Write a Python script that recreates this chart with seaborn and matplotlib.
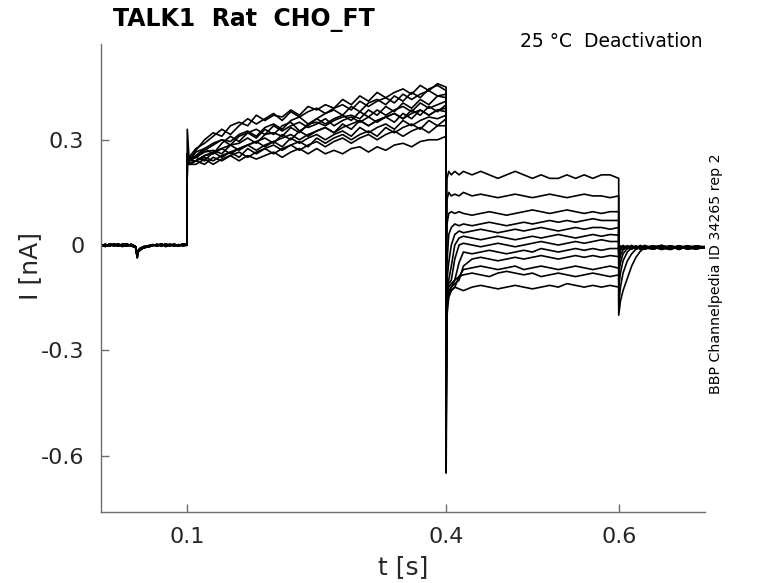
import numpy as np
import pandas as pd
import matplotlib
matplotlib.use("Agg")
import matplotlib.pyplot as plt
import seaborn as sns

# ---------------- data ----------------
hold_t = [0.0, 0.005, 0.01, 0.015, 0.02, 0.025, 0.03, 0.035, 0.04, 0.042, 0.043, 0.045,
          0.05, 0.055, 0.06, 0.065, 0.07, 0.075, 0.08, 0.085, 0.09, 0.095, 0.0995]
hold_a = [0.002, -0.003, 0.001, -0.002, 0.003, -0.004, 0.001, -0.002, -0.006, -0.036, -0.02, -0.015,
          -0.006, -0.002, 0.001, -0.003, 0.002, -0.001, 0.002, -0.003, 0.001, -0.002, 0.0]
hold_b = [-0.002, 0.002, -0.003, 0.003, -0.001, 0.002, -0.003, 0.002, -0.004, -0.03, -0.018, -0.012,
          -0.008, -0.004, -0.002, 0.002, -0.003, 0.003, -0.002, 0.001, -0.003, 0.002, -0.001]
hold_c = [0.0, -0.004, 0.003, 0.0, -0.003, 0.001, 0.003, -0.003, -0.005, -0.025, -0.016, -0.01,
          -0.004, -0.006, 0.0, -0.001, 0.003, -0.004, 0.0, 0.002, -0.002, 0.003, 0.001]
hold_sets = [hold_a, hold_b, hold_c]

act_t = [0.100, 0.102, 0.11, 0.12, 0.13, 0.14, 0.15, 0.16, 0.17, 0.18, 0.19, 0.20, 0.21, 0.22,
         0.23, 0.24, 0.25, 0.26, 0.27, 0.28, 0.29, 0.30, 0.31, 0.32, 0.33, 0.34, 0.35, 0.36,
         0.37, 0.38, 0.39, 0.40]
act_i = [
    [0.26, 0.24, 0.27, 0.30, 0.32, 0.31, 0.34, 0.35, 0.34, 0.37, 0.355, 0.37, 0.365, 0.385, 0.37, 0.395,
     0.385, 0.40, 0.39, 0.415, 0.40, 0.425, 0.41, 0.435, 0.42, 0.435, 0.445, 0.43, 0.455, 0.44, 0.46, 0.45],
    [0.33, 0.25, 0.25, 0.27, 0.285, 0.30, 0.295, 0.315, 0.325, 0.31, 0.335, 0.345, 0.33, 0.355, 0.365, 0.345,
     0.36, 0.375, 0.385, 0.37, 0.395, 0.38, 0.405, 0.415, 0.40, 0.425, 0.41, 0.435, 0.42, 0.445, 0.455, 0.44],
    [0.26, 0.24, 0.25, 0.265, 0.27, 0.26, 0.285, 0.29, 0.305, 0.29, 0.315, 0.32, 0.31, 0.335, 0.32, 0.345,
     0.35, 0.34, 0.355, 0.365, 0.37, 0.36, 0.385, 0.37, 0.395, 0.38, 0.405, 0.39, 0.415, 0.40, 0.425, 0.42],
    [0.26, 0.23, 0.24, 0.255, 0.26, 0.275, 0.26, 0.275, 0.285, 0.295, 0.28, 0.295, 0.305, 0.315, 0.30, 0.315,
     0.325, 0.335, 0.32, 0.335, 0.345, 0.355, 0.34, 0.355, 0.365, 0.375, 0.36, 0.385, 0.37, 0.395, 0.38, 0.40],
    [0.26, 0.25, 0.275, 0.29, 0.31, 0.33, 0.315, 0.34, 0.36, 0.345, 0.36, 0.375, 0.355, 0.38, 0.365, 0.38,
     0.39, 0.375, 0.39, 0.40, 0.385, 0.41, 0.395, 0.41, 0.42, 0.405, 0.43, 0.415, 0.43, 0.44, 0.425, 0.43],
    [0.26, 0.24, 0.25, 0.24, 0.265, 0.275, 0.285, 0.27, 0.285, 0.295, 0.305, 0.29, 0.315, 0.30, 0.325, 0.31,
     0.325, 0.335, 0.32, 0.345, 0.33, 0.355, 0.34, 0.355, 0.365, 0.35, 0.375, 0.36, 0.385, 0.37, 0.385, 0.39],
    [0.26, 0.24, 0.24, 0.255, 0.265, 0.25, 0.265, 0.275, 0.285, 0.27, 0.285, 0.295, 0.28, 0.305, 0.29, 0.305,
     0.315, 0.30, 0.315, 0.325, 0.31, 0.335, 0.32, 0.335, 0.345, 0.33, 0.355, 0.34, 0.355, 0.365, 0.36, 0.37],
    [0.26, 0.23, 0.24, 0.25, 0.24, 0.255, 0.265, 0.25, 0.275, 0.26, 0.275, 0.285, 0.27, 0.285, 0.295, 0.28,
     0.305, 0.29, 0.305, 0.315, 0.30, 0.315, 0.325, 0.31, 0.335, 0.32, 0.335, 0.345, 0.33, 0.355, 0.34, 0.36],
    [0.26, 0.24, 0.255, 0.275, 0.26, 0.29, 0.31, 0.295, 0.32, 0.305, 0.33, 0.315, 0.34, 0.35, 0.325, 0.34,
     0.36, 0.345, 0.36, 0.37, 0.355, 0.38, 0.365, 0.385, 0.37, 0.385, 0.395, 0.38, 0.405, 0.39, 0.40, 0.41],
    [0.26, 0.23, 0.24, 0.23, 0.25, 0.24, 0.255, 0.265, 0.25, 0.265, 0.275, 0.26, 0.275, 0.285, 0.27, 0.285,
     0.295, 0.28, 0.295, 0.305, 0.29, 0.305, 0.315, 0.30, 0.315, 0.325, 0.31, 0.325, 0.335, 0.32, 0.34, 0.34],
    [0.26, 0.24, 0.265, 0.275, 0.29, 0.30, 0.285, 0.31, 0.32, 0.33, 0.315, 0.34, 0.325, 0.34, 0.35, 0.335,
     0.345, 0.36, 0.34, 0.355, 0.365, 0.35, 0.365, 0.35, 0.365, 0.375, 0.36, 0.375, 0.385, 0.37, 0.385, 0.38],
    [0.26, 0.23, 0.23, 0.245, 0.23, 0.245, 0.255, 0.24, 0.255, 0.245, 0.255, 0.265, 0.25, 0.265, 0.275, 0.26,
     0.275, 0.26, 0.27, 0.26, 0.275, 0.28, 0.265, 0.28, 0.27, 0.285, 0.29, 0.28, 0.295, 0.30, 0.30, 0.31],
]

tail_t = [0.400, 0.401, 0.403, 0.406, 0.410, 0.415, 0.420, 0.43, 0.44, 0.45, 0.46, 0.47, 0.48,
          0.49, 0.50, 0.51, 0.52, 0.53, 0.54, 0.55, 0.56, 0.57, 0.58, 0.59, 0.60]
tail_i = [
    [-0.05, 0.19, 0.21, 0.20, 0.21, 0.20, 0.21, 0.20, 0.21, 0.20, 0.19, 0.20, 0.21,
     0.20, 0.19, 0.20, 0.19, 0.19, 0.20, 0.19, 0.20, 0.19, 0.20, 0.20, 0.19],
    [-0.10, 0.13, 0.15, 0.14, 0.145, 0.14, 0.15, 0.14, 0.145, 0.14, 0.135, 0.14, 0.145,
     0.14, 0.135, 0.14, 0.145, 0.14, 0.135, 0.14, 0.145, 0.14, 0.14, 0.135, 0.14],
    [-0.15, 0.06, 0.09, 0.095, 0.09, 0.095, 0.09, 0.085, 0.09, 0.095, 0.09, 0.085, 0.09,
     0.095, 0.10, 0.095, 0.09, 0.095, 0.10, 0.095, 0.09, 0.095, 0.09, 0.095, 0.095],
    [-0.20, -0.05, 0.03, 0.05, 0.06, 0.055, 0.06, 0.055, 0.06, 0.065, 0.06, 0.055, 0.06,
     0.065, 0.06, 0.065, 0.07, 0.065, 0.07, 0.065, 0.07, 0.075, 0.07, 0.07, 0.07],
    [-0.25, -0.10, -0.05, 0.0, 0.03, 0.04, 0.035, 0.04, 0.045, 0.04, 0.035, 0.04, 0.045,
     0.04, 0.045, 0.05, 0.045, 0.04, 0.045, 0.05, 0.045, 0.05, 0.05, 0.045, 0.05],
    [-0.30, -0.12, -0.10, -0.06, 0.0, 0.02, 0.025, 0.02, 0.015, 0.02, 0.025, 0.02, 0.015,
     0.02, 0.025, 0.02, 0.025, 0.03, 0.025, 0.02, 0.025, 0.03, 0.025, 0.03, 0.028],
    [-0.35, -0.13, -0.11, -0.10, -0.04, 0.0, 0.005, 0.0, -0.005, 0.0, 0.005, 0.0, -0.005,
     0.0, 0.005, 0.01, 0.005, 0.0, 0.005, 0.01, 0.005, 0.01, 0.015, 0.01, 0.01],
    [-0.40, -0.14, -0.12, -0.11, -0.10, -0.05, -0.02, -0.025, -0.02, -0.015, -0.02, -0.025, -0.02,
     -0.015, -0.02, -0.01, -0.015, -0.02, -0.015, -0.01, -0.015, -0.01, -0.015, -0.01, -0.01],
    [-0.45, -0.15, -0.13, -0.12, -0.11, -0.10, -0.06, -0.04, -0.035, -0.04, -0.045, -0.04, -0.035,
     -0.04, -0.035, -0.03, -0.035, -0.04, -0.035, -0.03, -0.035, -0.03, -0.035, -0.03, -0.033],
    [-0.50, -0.16, -0.14, -0.13, -0.12, -0.09, -0.07, -0.065, -0.06, -0.065, -0.07, -0.065, -0.06,
     -0.07, -0.065, -0.06, -0.065, -0.07, -0.065, -0.06, -0.065, -0.07, -0.065, -0.06, -0.066],
    [-0.55, -0.17, -0.14, -0.12, -0.10, -0.09, -0.085, -0.08, -0.085, -0.09, -0.08, -0.075, -0.08,
     -0.085, -0.08, -0.09, -0.085, -0.08, -0.085, -0.09, -0.085, -0.08, -0.085, -0.09, -0.085],
    [-0.65, -0.20, -0.15, -0.13, -0.12, -0.125, -0.13, -0.12, -0.115, -0.12, -0.125, -0.12, -0.115,
     -0.12, -0.125, -0.12, -0.115, -0.12, -0.11, -0.115, -0.12, -0.115, -0.12, -0.115, -0.12],
]

post_t = [0.600, 0.602, 0.605, 0.610, 0.615, 0.620, 0.625, 0.630, 0.64, 0.65, 0.66, 0.67,
          0.68, 0.69, 0.70]
post_i = [
    [-0.010, -0.002, -0.012, -0.004, -0.010, -0.003, -0.011, -0.004, -0.009, -0.002, -0.010, -0.004, -0.011, -0.003, -0.006],
    [-0.015, -0.008, -0.001, -0.010, -0.004, -0.012, -0.002, -0.009, -0.003, -0.012, -0.004, -0.010, -0.002, -0.009, -0.005],
    [-0.020, -0.004, -0.010, -0.002, -0.012, -0.005, -0.009, -0.001, -0.011, -0.006, -0.002, -0.011, -0.006, -0.002, -0.008],
    [-0.020, -0.011, -0.003, -0.009, -0.001, -0.010, -0.004, -0.012, -0.005, -0.001, -0.009, -0.003, -0.012, -0.005, -0.004],
    [-0.025, -0.006, -0.012, -0.004, -0.009, -0.002, -0.013, -0.006, -0.002, -0.010, -0.005, -0.013, -0.003, -0.010, -0.007],
    [-0.030, -0.012, -0.005, -0.011, -0.003, -0.008, -0.001, -0.010, -0.006, -0.013, -0.002, -0.007, -0.010, -0.004, -0.006],
    [-0.040, -0.015, -0.008, -0.002, -0.011, -0.004, -0.010, -0.005, -0.012, -0.003, -0.008, -0.002, -0.009, -0.012, -0.005],
    [-0.060, -0.030, -0.014, -0.006, -0.002, -0.010, -0.003, -0.011, -0.004, -0.009, -0.013, -0.004, -0.008, -0.003, -0.007],
    [-0.080, -0.050, -0.025, -0.010, -0.004, -0.012, -0.006, -0.002, -0.010, -0.005, -0.011, -0.006, -0.002, -0.011, -0.006],
    [-0.120, -0.080, -0.045, -0.020, -0.008, -0.003, -0.011, -0.004, -0.008, -0.001, -0.010, -0.005, -0.012, -0.004, -0.008],
    [-0.170, -0.120, -0.080, -0.045, -0.025, -0.012, -0.006, -0.010, -0.003, -0.011, -0.004, -0.009, -0.003, -0.010, -0.006],
    [-0.200, -0.160, -0.130, -0.095, -0.060, -0.035, -0.018, -0.008, -0.012, -0.004, -0.010, -0.002, -0.011, -0.005, -0.007],
]

x_ticks = [0.1, 0.4, 0.6]
x_tick_labels = ["0.1", "0.4", "0.6"]
y_ticks = [-0.6, -0.3, 0.0, 0.3]
y_tick_labels = ["-0.6", "-0.3", "0", "0.3"]

# ---------------- build long table ----------------
rows = []
for k in range(len(act_i)):
    segs = [(hold_t, hold_sets[k % 3]), (act_t, act_i[k]), (tail_t, tail_i[k]), (post_t, post_i[k])]
    for ts, vs in segs:
        for tt, vv in zip(ts, vs):
            rows.append((k, tt, vv))
df = pd.DataFrame(rows, columns=["sweep", "t", "I"])

# ---------------- plot ----------------
sns.set_style("white")
plt.rcParams["font.family"] = ["DejaVu Sans"]

fig = plt.figure(figsize=(7.78, 5.83), dpi=100)
ax = fig.add_axes([101 / 778, 1 - 512 / 583, 604 / 778, 468 / 583])

sns.lineplot(data=df, x="t", y="I", units="sweep", estimator=None, sort=False,
             color="black", linewidth=1.2, ax=ax, legend=False)

ax.set_xlim(0.0, 0.7)
ax.set_ylim(-0.761, 0.573)
ax.set_xticks(x_ticks)
ax.set_xticklabels(x_tick_labels)
ax.set_yticks(y_ticks)
ax.set_yticklabels(y_tick_labels)

for side in ["top", "right"]:
    ax.spines[side].set_visible(False)
for side in ["left", "bottom"]:
    ax.spines[side].set_color("#6e6e6e")
    ax.spines[side].set_linewidth(1.0)

ax.tick_params(axis="both", which="major", bottom=True, left=True, top=False, right=False,
               direction="in", length=6, width=1.0, color="#6e6e6e",
               labelsize=16, labelcolor="#262626")
ax.tick_params(axis="x", pad=11)
ax.tick_params(axis="y", pad=12)

ax.set_xlabel("t [s]", fontsize=18, color="#262626")
ax.set_ylabel("I [nA]", fontsize=18, color="#262626")
ax.xaxis.set_label_coords(0.5, -0.1175)
ax.yaxis.set_label_coords(-0.1175, 0.526)
ax.xaxis.label.set_va("center")
ax.yaxis.label.set_va("center")

fig.text(113 / 778, 1 - 26 / 583, "TALK1  Rat  CHO_FT", fontsize=17, fontweight="bold",
         ha="left", va="baseline", color="black")
fig.text(703 / 778, 1 - 47 / 583, "25 °C  Deactivation", fontsize=13.5,
         ha="right", va="baseline", color="black")
fig.text(716 / 778, 1 - 274 / 583, "BBP Channelpedia ID 34265 rep 2", fontsize=10.2,
         rotation=90, ha="center", va="center", color="black")

fig.savefig("out.png", dpi=100)
